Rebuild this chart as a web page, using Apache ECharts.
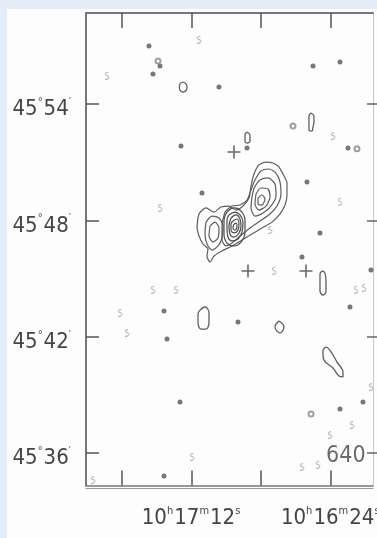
<!DOCTYPE html>
<html><head><meta charset="utf-8">
<script src="https://cdn.jsdelivr.net/npm/echarts@6/dist/echarts.min.js"></script>
<style>html,body{margin:0;padding:0;background:#e4ecf7;}#c{width:377px;height:538px;}</style>
</head><body><div id="c"></div>
<script>
// Axis values: x = RA seconds after 10h16m00s, y = Dec arcmin after 45°00'
const raTickValues = [96, 72, 48, 24];
const raLabelValues = [72, 24];
const raLabels = ['10h17m12s', '10h16m24s'];
const decTickValues = [54, 48, 42, 36];
const decLabels = ["45°54'", "45°48'", "45°42'", "45°36'"];
const raRange = [9.43, 108.40];
const decRange = [34.32, 58.70];

// Main source contours (closed)
const envelope = [[70.12,47.61],[69.43,48.33],[67.02,48.64],[64.26,48.43],[61.85,48.69],[59.09,48.74],[56.68,48.53],[54.26,48.74],[52.19,49.15],[51.50,49.77],[50.47,50.39],[48.75,50.86],[46.33,51.01],[43.92,50.96],[41.85,50.75],[40.47,50.39],[39.09,49.93],[39.09,49.31],[39.78,48.79],[41.51,48.33],[44.26,47.91],[47.71,47.61],[51.16,47.30],[54.61,46.99],[58.06,46.68],[61.50,46.42],[64.26,46.16],[65.64,45.85],[66.68,46.16],[66.33,46.52],[68.06,46.78],[69.43,47.19]];
const level2 = [[60.47,48.43],[58.06,48.74],[55.30,48.79],[52.88,49.05],[51.50,49.57],[50.13,50.08],[48.06,50.55],[45.30,50.65],[42.88,50.44],[41.51,49.98],[41.16,49.36],[42.54,48.74],[44.95,48.33],[48.40,47.97],[51.85,47.61],[55.30,47.19],[58.06,46.83],[60.12,46.68],[61.50,46.99],[61.50,47.76]];
const eastLobe3 = [[50.47,49.67],[48.40,50.08],[45.64,50.19],[43.23,49.88],[42.88,49.26],[44.61,48.74],[47.37,48.38],[50.13,48.22],[51.50,48.64],[51.16,49.20]];
const eastLobe4 = [[49.78,49.36],[48.06,49.67],[45.64,49.62],[44.95,49.20],[46.33,48.74],[48.75,48.53],[50.13,48.84]];
const eastLobe5 = [[49.09,49.15],[47.71,49.31],[46.68,49.10],[47.71,48.79],[49.09,48.84]];
const core1 = [[59.78,48.43],[57.37,48.64],[54.95,48.48],[53.57,48.02],[53.57,47.40],[54.95,46.88],[57.37,46.68],[59.78,46.83],[60.81,47.30],[60.81,48.02]];
const core2 = [[59.09,48.28],[57.02,48.43],[55.30,48.28],[54.26,47.91],[54.61,47.40],[55.99,47.04],[58.06,46.94],[59.43,47.14],[59.78,47.61],[59.78,48.02]];
const core3 = [[58.40,48.12],[56.68,48.28],[55.30,48.07],[54.95,47.71],[55.64,47.35],[57.37,47.14],[58.75,47.30],[59.09,47.71]];
const core4 = [[57.71,47.97],[56.33,48.07],[55.64,47.81],[55.99,47.50],[57.37,47.35],[58.40,47.50],[58.40,47.81]];
const core5 = [[57.37,47.81],[56.68,47.86],[56.33,47.66],[57.02,47.50],[57.71,47.61]];
const westLobe1 = [[67.02,47.91],[64.95,48.22],[62.54,48.12],[61.16,47.71],[61.50,47.09],[62.88,46.68],[64.95,46.47],[66.68,46.78],[67.37,47.35]];
const westLobe2 = [[65.64,47.71],[63.92,47.91],[62.54,47.61],[62.88,47.09],[64.61,46.88],[65.99,47.19]];

// Isolated small contours
const blobA = [[69.09,43.37],[67.37,43.53],[65.99,43.22],[65.99,42.75],[67.02,42.39],[68.74,42.39],[69.78,42.75],[69.78,43.17]];
const blobB = [[41.85,42.81],[40.13,42.50],[41.51,42.19],[43.23,42.50]];
const blobC = [[27.02,45.39],[25.99,45.28],[25.64,44.82],[25.64,44.30],[26.68,44.15],[27.71,44.35],[27.71,44.92],[27.71,45.23]];
const blobD = [[26.68,41.31],[25.64,41.46],[23.92,41.21],[21.85,40.69],[19.78,40.17],[19.78,39.92],[21.16,39.97],[23.23,40.38],[26.33,40.79],[26.68,41.10]];
const blobE = [[30.82,53.54],[29.79,53.38],[29.79,53.07],[30.13,52.81],[30.48,52.61],[31.51,52.66],[31.51,53.02],[31.51,53.38]];
const blobF = [[74.95,55.14],[73.92,55.04],[73.57,54.88],[73.92,54.70],[74.95,54.62],[75.99,54.72],[76.20,54.88],[75.99,55.04]];
const blobG = [[52.88,52.56],[51.85,52.40],[51.85,52.10],[52.88,51.99],[53.57,52.10],[53.57,52.40]];

// Point sources
const dots = [[86.68,57.00],[82.88,55.96],[85.30,55.55],[62.54,54.88],[30.12,55.96],[20.81,56.17],[18.06,51.74],[75.64,51.84],[52.88,51.74],[68.40,49.41],[32.19,49.98],[27.71,47.35],[33.92,46.11],[10.12,45.44],[17.37,43.53],[81.50,43.32],[55.99,42.76],[80.47,41.88],[75.99,38.63],[20.81,38.27],[12.88,38.63],[81.50,34.81]];
const rings = [[83.57,56.22],[37.02,52.87],[14.95,51.69],[30.81,38.01]];
const faint = [[101.16,55.45],[69.43,57.31],[23.23,52.35],[44.95,47.50],[82.88,48.64],[20.81,48.95],[43.57,45.39],[15.30,44.41],[12.54,44.51],[85.30,44.41],[77.37,44.41],[96.68,43.22],[94.26,42.19],[10.12,39.40],[16.68,37.44],[24.26,36.92],[71.85,35.79],[33.92,35.27],[28.40,35.38],[105.99,34.60]];
const crosses = [[57.37,51.53],[52.54,45.39],[32.54,45.39]];
const annotations = [{text: '640', at: [18.79, 35.84]}];

const FONT = '"Liberation Sans Narrow", "DejaVu Sans Condensed", "Liberation Sans", sans-serif';
const INK = '#454545';

function richLabel(str) {
  return str.split(/(\d+)/).filter(t => t.length).map(t => /^\d+$/.test(t) ? '{n|' + t + '}' : '{u|' + t.replace("'", '′') + '}').join('');
}
const rich = {
  n: {fontSize: 22, fontFamily: FONT, color: INK, lineHeight: 24, verticalAlign: 'bottom'},
  u: {fontSize: 11, fontFamily: FONT, color: INK, lineHeight: 11, verticalAlign: 'top', padding: [0, 1, 0, 0]}
};

const mainGroup = [envelope, level2, eastLobe3, eastLobe4, eastLobe5, westLobe1, westLobe2];
const coreGroup = [core1, core2, core3, core4, core5];
const blobGroup = [blobA, blobB, blobC, blobD, blobE, blobF, blobG];

function closed(arr) { return arr.concat([arr[0]]); }
const series = [];
mainGroup.forEach(c => series.push({type: 'line', data: closed(c), symbol: 'none', smooth: 0.25, lineStyle: {color: '#5e5e5e', width: 1.2}, silent: true, z: 3}));
coreGroup.forEach(c => series.push({type: 'line', data: closed(c), symbol: 'none', smooth: 0.4, lineStyle: {color: '#4e4e4e', width: 1.2}, silent: true, z: 3}));
blobGroup.forEach(c => series.push({type: 'line', data: closed(c), symbol: 'none', smooth: 0.4, lineStyle: {color: '#5e5e5e', width: 1.3}, silent: true, z: 3}));
series.push({type: 'scatter', data: dots, symbol: 'circle', symbolSize: 5, itemStyle: {color: '#555'}, silent: true});
series.push({type: 'scatter', data: rings, symbol: 'emptyCircle', symbolSize: 5, itemStyle: {color: '#888', borderWidth: 1}, silent: true});
series.push({type: 'scatter', data: faint, symbol: 'path://M4,0 C1,0 0,3 3,4 C6,5 5,9 1,9', symbolSize: [4, 7], itemStyle: {color: 'none', borderColor: '#aaa', borderWidth: 1}, silent: true});
series.push({type: 'scatter', data: crosses, symbol: 'path://M6,0L6,12M0,6L12,6', symbolSize: 13, itemStyle: {color: 'none', borderColor: '#444', borderWidth: 1.6}, silent: true});
series.push({type: 'scatter', data: annotations.map(a => ({value: a.at, name: a.text})), symbolSize: 0, silent: true,
  label: {show: true, position: 'inside', formatter: p => p.name, fontSize: 23, fontFamily: FONT, color: INK}});

const chart = echarts.init(document.getElementById('c'), null, {renderer: 'canvas'});
chart.setOption({
  animation: false,
  backgroundColor: 'transparent',
  graphic: [{type: 'rect', shape: {x: 7, y: 9, width: 370, height: 529}, style: {fill: '#fdfdfd'}, z: -10, silent: true}],
  grid: {left: 86, right: 4, top: 13, bottom: 52.5, containLabel: false, outerBoundsMode: 'none'},
  xAxis: [
    {type: 'value', position: 'bottom', inverse: true, min: raRange[0], max: raRange[1],
      axisLine: {show: true, lineStyle: {color: '#777', width: 1.5}},
      axisTick: {show: true, inside: true, length: 15, customValues: raTickValues, lineStyle: {color: '#555', width: 1.5}},
      axisLabel: {show: true, customValues: raLabelValues, margin: 20, hideOverlap: false, showMinLabel: true, showMaxLabel: true,
        formatter: v => richLabel(raLabels[raLabelValues.indexOf(v)] || ''), rich: rich},
      splitLine: {show: false}},
    {type: 'value', position: 'top', inverse: true, min: raRange[0], max: raRange[1],
      axisLine: {show: true, lineStyle: {color: '#777', width: 2}},
      axisTick: {show: true, inside: true, length: 15, customValues: raTickValues, lineStyle: {color: '#555', width: 1.5}},
      axisLabel: {show: false}, splitLine: {show: false}},
    {type: 'value', position: 'bottom', offset: 2.5, inverse: true, min: raRange[0], max: raRange[1],
      axisLine: {show: true, lineStyle: {color: '#999', width: 1}},
      axisTick: {show: false}, axisLabel: {show: false}, splitLine: {show: false}}
  ],
  yAxis: [
    {type: 'value', position: 'left', min: decRange[0], max: decRange[1],
      axisLine: {show: true, lineStyle: {color: '#777', width: 2}},
      axisTick: {show: true, inside: true, length: 13, customValues: decTickValues, lineStyle: {color: '#555', width: 1.5}},
      axisLabel: {show: true, customValues: decTickValues, margin: 14, padding: [9, 0, 0, 0], hideOverlap: false,
        formatter: v => richLabel(decLabels[decTickValues.indexOf(v)] || ''), rich: rich},
      splitLine: {show: false}},
    {type: 'value', position: 'right', min: decRange[0], max: decRange[1],
      axisLine: {show: true, lineStyle: {color: '#c8c8c8', width: 1}},
      axisTick: {show: true, inside: true, length: 6, customValues: decTickValues, lineStyle: {color: '#666', width: 1.5}},
      axisLabel: {show: false}, splitLine: {show: false}},
    {type: 'value', position: 'right', min: decRange[0], max: decRange[1],
      axisLine: {show: false},
      axisTick: {show: true, inside: false, length: 5, customValues: decTickValues, lineStyle: {color: '#666', width: 1.5}},
      axisLabel: {show: false}, splitLine: {show: false}}
  ],
  series: series
});
</script></body></html>
